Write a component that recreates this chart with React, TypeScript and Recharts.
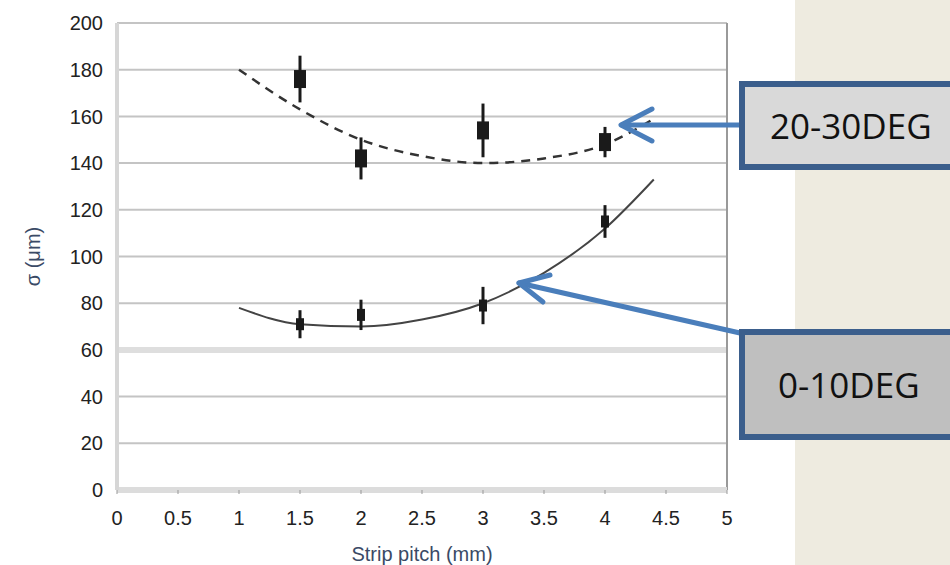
import React from 'react';
import {
  ComposedChart, Line, Scatter, ErrorBar, XAxis, YAxis, CartesianGrid, ReferenceLine,
} from 'recharts';

// measured points with error bars
const pitch = [1.5, 2, 3, 4];
const sigmaHigh = [176, 142, 154, 149]; // 20-30DEG
const errHigh = [10, 9, 11.5, 6.5];
const sigmaLow = [71, 75, 79, 115]; // 0-10DEG
const errLow = [6, 6.5, 8, 7];

// fitted curves
const fitX = [1, 1.5, 2, 2.5, 3, 3.5, 4, 4.4];
const fitHigh = [180, 163, 150, 143, 140, 142, 148, 159];
const fitLow = [78, 71, 70, 73, 80, 93, 112, 133];

const xTicks = [0, 0.5, 1, 1.5, 2, 2.5, 3, 3.5, 4, 4.5, 5];
const yTicks = [0, 20, 40, 60, 80, 100, 120, 140, 160, 180, 200];

const highPts = pitch.map((x, i) => ({ x, y: sigmaHigh[i], err: errHigh[i] }));
const lowPts = pitch.map((x, i) => ({ x, y: sigmaLow[i], err: errLow[i] }));
const highFit = fitX.map((x, i) => ({ x, y: fitHigh[i] }));
const lowFit = fitX.map((x, i) => ({ x, y: fitLow[i] }));

const font = '"Liberation Sans", Arial, sans-serif';

const BigMarker = (p: any) => (
  <rect x={p.cx - 6} y={p.cy - 9} width={12} height={18} fill="#1a1a1a" />
);
const SmallMarker = (p: any) => (
  <rect x={p.cx - 4} y={p.cy - 6} width={8} height={12} fill="#1a1a1a" />
);

const boxStyle = (top: number, height: number, fill: string, pad: number): React.CSSProperties => ({
  position: 'absolute', left: 739, top, width: 230, height, boxSizing: 'border-box',
  border: '6px solid #3B5E8C', background: fill, display: 'flex', alignItems: 'center',
  paddingLeft: pad, fontFamily: '"Open Sans", sans-serif', fontSize: 35, color: '#111',
});

export default function App() {
  return (
    <div style={{ position: 'absolute', left: 0, top: 0, width: 950, height: 565, overflow: 'hidden', background: '#fff' }}>
      <div style={{ position: 'absolute', left: 795, top: 0, width: 155, height: 565, background: '#EEEBE0' }} />
      <div style={{ position: 'absolute', left: 0, top: 0 }}>
        <ComposedChart width={950} height={565} margin={{ top: 23, right: 223, bottom: 0, left: 0 }}>
          <CartesianGrid vertical={false} stroke="#c4c4c4" strokeWidth={2} />
          <XAxis
            type="number" dataKey="x" domain={[0, 5]} ticks={xTicks} height={75}
            axisLine={{ stroke: '#dcdcdc', strokeWidth: 6 }} tickLine={{ stroke: '#999' }} tickSize={4} tickMargin={17}
            tick={{ fill: '#222', fontSize: 20, fontFamily: font }}
            label={{ value: 'Strip pitch (mm)', position: 'insideBottom', offset: 4, fill: '#3a4a66', fontSize: 20, fontFamily: font }}
          />
          <YAxis
            type="number" domain={[0, 200]} ticks={yTicks} width={117}
            axisLine={{ stroke: '#d6d6d6', strokeWidth: 4 }} tickLine={false} tickSize={6} tickMargin={8}
            tick={{ fill: '#222', fontSize: 20, fontFamily: font }}
            label={{ value: 'σ (μm)', angle: -90, position: 'insideLeft', offset: 33, fill: '#3a4a66', fontSize: 20, fontFamily: font, style: { textAnchor: 'middle' } }}
          />
          <ReferenceLine y={60} stroke="#dedede" strokeWidth={6} />
          <ReferenceLine x={5} stroke="#9a9a9a" strokeWidth={2} />
          <Line data={highFit} dataKey="y" type="monotone" stroke="#333" strokeWidth={2.5} strokeDasharray="9 7" dot={false} isAnimationActive={false} />
          <Line data={lowFit} dataKey="y" type="monotone" stroke="#444" strokeWidth={2} dot={false} isAnimationActive={false} />
          <Scatter data={highPts} dataKey="y" shape={BigMarker} isAnimationActive={false}>
            <ErrorBar dataKey="err" direction="y" width={0} stroke="#1a1a1a" strokeWidth={3} />
          </Scatter>
          <Scatter data={lowPts} dataKey="y" shape={SmallMarker} isAnimationActive={false}>
            <ErrorBar dataKey="err" direction="y" width={0} stroke="#1a1a1a" strokeWidth={3} />
          </Scatter>
        </ComposedChart>
      </div>
      <svg width={950} height={565} style={{ position: 'absolute', left: 0, top: 0, pointerEvents: 'none' }}>
        <g stroke="#4A7EBB" strokeWidth={5} fill="none" strokeLinecap="round" strokeLinejoin="round">
          <line x1={740} y1={125} x2={622} y2={125} />
          <polyline points="652,109 621,125 652,141" />
          <line x1={740} y1={333} x2={519} y2={283} />
          <polyline points="550,275 519,283 543,302" />
        </g>
      </svg>
      <div style={boxStyle(81, 89, '#D9D9D9', 25)}>20-30DEG</div>
      <div style={boxStyle(329, 111, '#BFBFBF', 33)}>0-10DEG</div>
    </div>
  );
}
